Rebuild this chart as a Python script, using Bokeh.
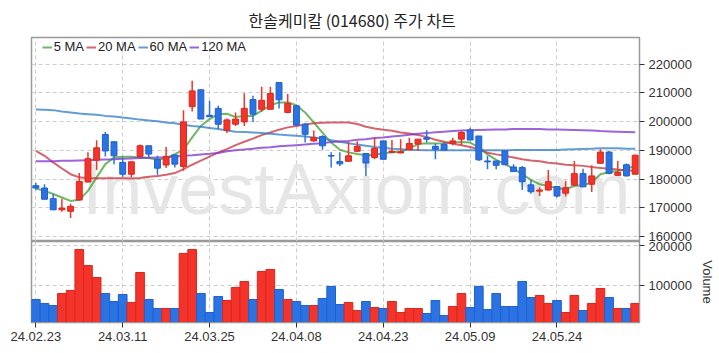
from bokeh.plotting import figure
from bokeh.layouts import column
from bokeh.models import (Range1d, FixedTicker, NumeralTickFormatter, Legend,
                          LegendItem, Label, ColumnDataSource)
from bokeh.embed import file_html
from bokeh.resources import INLINE

# ---------------- data ----------------
dates = ["24.02.23", "24.02.26", "24.02.27", "24.02.28", "24.02.29",
         "24.03.04", "24.03.05", "24.03.06", "24.03.07", "24.03.08",
         "24.03.11", "24.03.12", "24.03.13", "24.03.14", "24.03.15",
         "24.03.18", "24.03.19", "24.03.20", "24.03.21", "24.03.22",
         "24.03.25", "24.03.26", "24.03.27", "24.03.28", "24.03.29",
         "24.04.01", "24.04.02", "24.04.03", "24.04.04", "24.04.05",
         "24.04.08", "24.04.09", "24.04.11", "24.04.12", "24.04.15",
         "24.04.16", "24.04.17", "24.04.18", "24.04.19", "24.04.22",
         "24.04.23", "24.04.24", "24.04.25", "24.04.26", "24.04.29",
         "24.04.30", "24.05.02", "24.05.03", "24.05.07", "24.05.08",
         "24.05.09", "24.05.10", "24.05.13", "24.05.14", "24.05.16",
         "24.05.17", "24.05.20", "24.05.21", "24.05.22", "24.05.23",
         "24.05.24", "24.05.27", "24.05.28", "24.05.29", "24.05.30",
         "24.05.31", "24.06.03", "24.06.04", "24.06.05", "24.06.07"]

opens = [177700, 176900, 173200, 169300, 168800, 172700, 179000, 186600, 195500, 193000,
         185800, 181700, 187900, 191600, 186900, 184900, 188400, 184400, 205200, 211100,
         202200, 204600, 197000, 199100, 199900, 207700, 204300, 204300, 213600, 203200,
         205500, 199100, 193300, 194800, 188200, 186100, 186200, 189700, 188900, 187500,
         193300, 189300, 189100, 190200, 192200, 194400, 191400, 192100, 192500, 193900,
         197100, 195000, 186300, 186300, 189800, 184200, 184000, 178000, 175800, 176200,
         177400, 175100, 177900, 181900, 178200, 185500, 189400, 181300, 185000, 181700]
highs = [178600, 178200, 174800, 173200, 171400, 182100, 189300, 193500, 196400, 193000,
         187500, 186200, 192000, 191600, 188100, 191200, 188400, 204000, 214200, 211100,
         207200, 205500, 201100, 203200, 209900, 209000, 212100, 212100, 213600, 209600,
         205700, 199500, 196900, 195300, 189300, 189300, 193000, 193200, 188900, 194500,
         193300, 193600, 193900, 194400, 193900, 197000, 192400, 192900, 194400, 196800,
         197900, 195000, 188100, 186300, 189800, 185200, 184600, 179700, 177200, 183200,
         177400, 179400, 186300, 183600, 184800, 190400, 189800, 186300, 185400, 188600]
lows = [176300, 172900, 169200, 168600, 166500, 172600, 178800, 183200, 187900, 185200,
        180800, 180600, 187700, 187200, 181500, 183900, 184000, 182900, 203500, 200900,
        201600, 197400, 196000, 198500, 198500, 199900, 203400, 204300, 204600, 202900,
        198500, 192700, 193000, 190200, 184000, 184600, 186000, 189300, 181100, 186900,
        186900, 189000, 189000, 190200, 189800, 192700, 186900, 190100, 191800, 191800,
        193600, 186300, 183400, 183400, 185000, 182600, 176200, 174900, 174100, 175900,
        173600, 173900, 177700, 177300, 175500, 185400, 181700, 181100, 180900, 181600]
closes = [176900, 173000, 169300, 169900, 170500, 179200, 187100, 190900, 189800, 188100,
          181700, 186000, 191600, 188700, 183800, 187900, 185200, 199900, 210700, 200900,
          201700, 199100, 200600, 200900, 204600, 202600, 207400, 209800, 207600, 206400,
          198800, 195600, 194400, 191600, 188000, 185300, 188100, 191400, 185600, 190700,
          186900, 189700, 189500, 192400, 193900, 193900, 190400, 190100, 193300, 196200,
          193600, 186700, 186000, 184800, 185000, 182600, 179100, 175600, 176200, 179100,
          174100, 177000, 181900, 177300, 181100, 189400, 182000, 182300, 181100, 188300]
volumes = [65800, 55800, 50800, 80800, 88300, 190800, 150800, 120800, 80800, 60800,
           78300, 58300, 133300, 65800, 43300, 43300, 43300, 180800, 190800, 80800,
           33300, 73300, 63300, 95800, 110800, 65800, 135800, 140800, 90800, 65800,
           60800, 50800, 50800, 68300, 98300, 53300, 58300, 38300, 60800, 45800,
           43300, 60800, 33300, 43300, 43300, 30800, 63300, 25800, 48300, 80800,
           45800, 98300, 40800, 80800, 48300, 48300, 110800, 70800, 75800, 55800,
           63300, 33300, 75800, 38300, 55800, 93300, 70800, 43300, 43300, 55800]
ma5 = [176700, 175900, 174800, 173600, 172400, 172800, 175900, 180600, 185200, 187500,
       187800, 187800, 187500, 187300, 186700, 187300, 188700, 190200, 194500, 198500,
       200900, 202600, 202700, 201600, 202000, 202000, 203800, 205700, 206700, 206700,
       205700, 203200, 199700, 196200, 192700, 190200, 189300, 188700, 188300, 188500,
       189000, 189300, 189500, 190700, 192200, 192500, 192400, 192500, 192700, 192900,
       192700, 191000, 188600, 186700, 185200, 183600, 181700, 179700, 178200, 177600,
       176800, 176500, 177600, 177900, 178800, 181700, 182500, 182800, 183400, 184800]
ma20 = [189800, 188100, 185800, 183700, 181700, 180600, 180300, 180300, 180300, 180300,
        180300, 180200, 180400, 180800, 181100, 181500, 182100, 183500, 185000, 186400,
        187800, 189300, 190400, 191800, 193000, 194100, 195300, 196200, 197200, 198000,
        198500, 199000, 199400, 199600, 199700, 199700, 199700, 199200, 198200, 197600,
        197200, 196800, 196200, 195900, 195300, 194700, 193700, 193000, 192300, 191800,
        191200, 190400, 189200, 188600, 188100, 187500, 186900, 186500, 186200, 185700,
        185400, 185000, 184800, 184600, 184200, 183900, 183600, 183300, 183100, 182800]
ma60 = [204200, 204100, 204000, 203500, 203200, 202800, 202600, 202400, 202000, 201800,
        201400, 201100, 200700, 200400, 200100, 199700, 199400, 198900, 198500, 198200,
        197800, 197400, 196900, 196500, 196400, 196200, 196000, 195800, 195500, 195300,
        195100, 194800, 194500, 194100, 193500, 193000, 192500, 192000, 191600, 191200,
        190900, 190600, 190400, 190200, 190100, 190000, 190000, 190000, 190000, 190000,
        190000, 190000, 190000, 190000, 190000, 190100, 190100, 190100, 190100, 190100,
        190100, 190300, 190400, 190500, 190600, 190700, 190700, 190700, 190600, 190600]
ma120 = [186200, 186200, 186200, 186400, 186400, 186500, 186600, 186700, 186800, 186900,
         187100, 187200, 187300, 187400, 187500, 187600, 187900, 188100, 188300, 188600,
         188800, 189100, 189700, 190000, 190300, 190600, 190900, 191100, 191400, 191600,
         191800, 192000, 192300, 192500, 192900, 193100, 193300, 193700, 193900, 194300,
         194500, 194800, 195100, 195400, 195800, 196000, 196300, 196500, 196700, 196900,
         197000, 197100, 197200, 197300, 197300, 197400, 197400, 197400, 197400, 197300,
         197300, 197200, 197100, 197000, 196900, 196700, 196600, 196500, 196400, 196300]

tick_positions = [0, 10, 20, 30, 40, 50, 60]
tick_labels = ["24.02.23", "24.03.11", "24.03.25", "24.04.08", "24.04.23", "24.05.09", "24.05.24"]
price_ticks = [160000, 170000, 180000, 190000, 200000, 210000, 220000]
volume_ticks = [100000, 200000]
ma_names = ["5 MA", "20 MA", "60 MA", "120 MA"]

# ---------------- styling ----------------
UP, DOWN = "#f4332a", "#2b73e3"
UP_LINE, DOWN_LINE = "#d8281f", "#1f60cc"
MA_COLORS = ["#3f9f2f", "#c8303c", "#2c7cc4", "#7b2fcf"]
FONT = "Liberation Sans"
KFONT = "Noto Sans CJK KR"

n = len(dates)
xs = list(range(n))
is_up = [c >= o for o, c in zip(opens, closes)]
src = ColumnDataSource(dict(
    x=xs, h=highs, l=lows,
    top=[max(o, c) for o, c in zip(opens, closes)],
    bottom=[min(o, c) for o, c in zip(opens, closes)],
    color=[UP if u else DOWN for u in is_up],
    lc=[UP_LINE if u else DOWN_LINE for u in is_up],
    vol=volumes,
))

xr = Range1d(-0.5, n - 0.5)

p = figure(frame_width=608, frame_height=204, x_range=xr,
           y_range=Range1d(158280, 229280),
           x_axis_location=None, y_axis_location="right",
           output_backend="svg", toolbar_location=None,
           min_border_left=31, min_border_right=0, min_border_top=0, min_border_bottom=0,
           title="한솔케미칼 (014680) 주가 차트")
p.title.text_font = KFONT
p.title.text_font_size = "16px"
p.title.text_font_style = "normal"
p.title.text_color = "#222222"
p.title.align = "left"
p.title.offset = 217
p.title.standoff = 11

pv = figure(frame_width=608, frame_height=81, x_range=xr,
            y_range=Range1d(8250, 210750),
            y_axis_location="right",
            output_backend="svg", toolbar_location=None,
            min_border_left=31, min_border_right=0, min_border_top=0, min_border_bottom=0)

for fig in (p, pv):
    fig.xgrid.ticker = FixedTicker(ticks=tick_positions)
    fig.grid.grid_line_dash = "4 3"
    fig.grid.grid_line_color = "#cccccc"
    fig.grid.grid_line_width = 1
    fig.outline_line_color = "#999999"
    fig.outline_line_width = 1.5
    fig.background_fill_color = "white"
    fig.border_fill_color = "white"
    ax = fig.yaxis[0]
    ax.formatter = NumeralTickFormatter(format="0")
    ax.major_label_text_font = FONT
    ax.major_label_text_font_size = "13px"
    ax.major_label_text_color = "#333333"
    ax.axis_line_color = "#999999"
    ax.major_tick_line_color = "#333333"
    ax.major_tick_out = 5
    ax.major_tick_in = 0
    ax.minor_tick_line_color = None
    ax.major_label_standoff = 4

p.yaxis[0].ticker = FixedTicker(ticks=price_ticks)
p.ygrid.ticker = FixedTicker(ticks=price_ticks)
pv.yaxis[0].ticker = FixedTicker(ticks=volume_ticks)
pv.ygrid.ticker = FixedTicker(ticks=volume_ticks)
pv.yaxis[0].axis_label = "Volume"
pv.yaxis[0].axis_label_text_font = FONT
pv.yaxis[0].axis_label_text_font_size = "13px"
pv.yaxis[0].axis_label_text_font_style = "normal"
pv.yaxis[0].axis_label_text_color = "#333333"
pv.yaxis[0].axis_label_standoff = 5

xa = pv.xaxis[0]
xa.ticker = FixedTicker(ticks=tick_positions)
xa.major_label_overrides = {t: s for t, s in zip(tick_positions, tick_labels)}
xa.major_label_text_font = FONT
xa.major_label_text_font_size = "13px"
xa.major_label_text_color = "#333333"
xa.axis_line_color = "#999999"
xa.major_tick_line_color = "#333333"
xa.major_tick_out = 5
xa.major_tick_in = 0
xa.minor_tick_line_color = None
xa.major_label_standoff = 4

# watermark
wm = Label(x=36.9, y=176500, text="InvestAxiom.com", text_font=FONT,
           text_font_size="72px", text_color="#e6e6e6", text_align="center",
           text_baseline="alphabetic", level="underlay")
p.add_layout(wm)

# moving averages
ma_renderers = []
for vals, col in zip([ma5, ma20, ma60, ma120], MA_COLORS):
    r = p.line(xs, vals, line_color=col, line_width=2, line_alpha=0.75)
    ma_renderers.append(r)

# candles
p.segment(x0="x", y0="h", x1="x", y1="l", line_color="color", line_width=1.5, source=src)
p.vbar(x="x", width=0.68, top="top", bottom="bottom", fill_color="color",
       line_color="lc", line_width=1, source=src)

# volume bars
pv.vbar(x="x", width=1.0, top="vol", bottom=0, fill_color="color",
        line_color="lc", line_width=1, source=src)

legend = Legend(items=[LegendItem(label=nm, renderers=[r]) for nm, r in zip(ma_names, ma_renderers)],
                orientation="horizontal", location=(10.7, 187),
                background_fill_alpha=0, border_line_alpha=0,
                label_text_font=FONT, label_text_font_size="13px",
                label_text_color="#222222", glyph_width=10, glyph_height=14,
                label_height=14, label_standoff=2, spacing=2, padding=0, margin=0)
p.add_layout(legend)

layout = column(p, pv, spacing=0)
open("out.html", "w").write(file_html(layout, INLINE))
